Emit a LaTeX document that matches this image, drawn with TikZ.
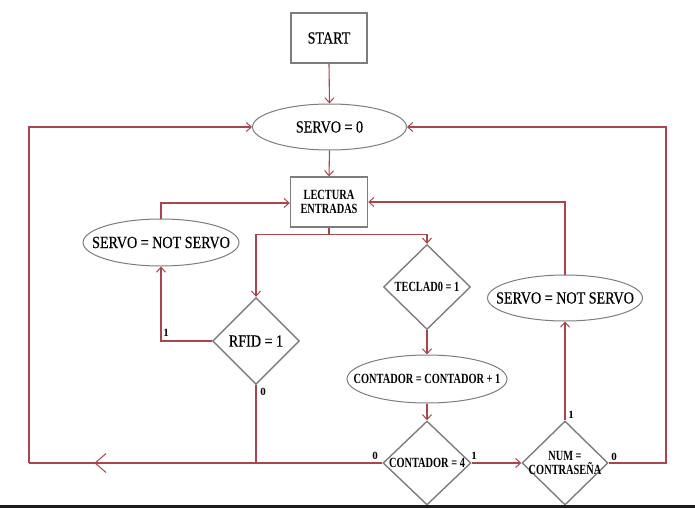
\documentclass[tikz,border=0pt]{standalone}
\usepackage{fontspec}
\setmainfont{Liberation Serif}
\newfontfamily\condfont[FakeStretch=0.74]{Liberation Serif Bold}
\newfontfamily\bigfont[FakeStretch=0.83,FakeBold=0.4]{Liberation Serif}
\usetikzlibrary{shapes.geometric,arrows.meta,decorations.markings}
\definecolor{flow}{RGB}{168,70,80}
\definecolor{outline}{RGB}{125,125,125}
\definecolor{barcol}{RGB}{28,28,28}
\begin{document}
\begin{tikzpicture}[x=1pt,y=-1pt,
  box/.style={rectangle, draw=outline, line width=1.4pt, inner sep=0pt},
  oval/.style={ellipse, draw=outline, line width=1pt, inner sep=0pt},
  dec/.style={diamond, draw=outline, line width=1.4pt, inner sep=0pt},
  bigtxt/.style={font=\bigfont\fontsize{17}{19}\selectfont},
  smalltxt/.style={font=\condfont\fontsize{14}{13.5}\selectfont},
  flowline/.style={draw=flow, line width=1.1pt},
  arr/.style={flowline, -{Straight Barb[length=5pt,width=9pt,line width=1pt]}},
  lbl/.style={font=\fontsize{11}{12}\selectfont\bfseries, inner sep=0pt}
]
\useasboundingbox (0,0) rectangle (695,508);
\fill[white] (0,0) rectangle (695,508);

% process boxes
\node[box, minimum width=76pt, minimum height=50pt, bigtxt] (start) at (329,38) {START};
\node[box, minimum width=77pt, minimum height=50pt, smalltxt, align=center] (lect) at (329,202) {LECTURA\\ENTRADAS};

% assignments (text set as a centred label so the ellipse keeps its size)
\node[oval, minimum width=154pt, minimum height=46pt,
      label={[bigtxt]center:SERVO = 0}] (servo0) at (329.5,127) {};
\node[oval, minimum width=156pt, minimum height=47pt,
      label={[bigtxt]center:SERVO = NOT SERVO}] (nsL) at (161,242.5) {};
\node[oval, minimum width=160pt, minimum height=48pt,
      label={[smalltxt]center:CONTADOR = CONTADOR + 1}] (cont) at (427,379) {};
\node[oval, minimum width=155pt, minimum height=46pt,
      label={[bigtxt]center:SERVO = NOT SERVO}] (nsR) at (565,298) {};

% decisions
\node[dec, minimum width=87pt, minimum height=87pt, bigtxt] (rfid) at (256,341) {RFID = 1};
\node[dec, minimum width=87pt, minimum height=85pt,
      label={[smalltxt]center:TECLAD0 = 1}] (tec) at (427,287) {};
\node[dec, minimum width=88pt, minimum height=84pt,
      label={[smalltxt]center:CONTADOR = 4}] (c4) at (427,463) {};
\node[dec, minimum width=86pt, minimum height=84pt,
      label={[smalltxt, align=center]center:NUM =\\CONTRASEÑA}] (num) at (565,463) {};

% main sequence
\draw[arr] (start.south) -- (servo0.north);
\draw[arr] (servo0.south) -- (lect.north);
\draw[flowline] (lect.south) -- ++(0,7) coordinate (split);
\draw[arr] (split) -| (rfid.north);
\draw[arr] (split) -| (tec.north);
\draw[arr] (tec.south) -- (cont.north);
\draw[arr] (cont.south) -- (c4.north);
\draw[arr] (c4.east) -- (num.west);

% RFID branch
\draw[arr] (rfid.west) -| (nsL.south);
\draw[arr] (nsL.north) |- ([yshift=-1pt]lect.west);
\draw[flowline] (rfid.south) -- (rfid.south |- c4.west);

% return loops to SERVO = 0
\coordinate (bl) at (29,463);
\coordinate (br) at (666,463);
\draw[flowline, postaction={decorate, decoration={markings,
      mark=at position 288pt with {\arrow[flow, line width=1pt]{Straight Barb[length=11pt,width=19pt]}}}}]
  (c4.west) -- (bl);
\draw[arr] (bl) |- (servo0.west);
\draw[arr] (num.east) -- (br) |- (servo0.east);

% password match
\draw[arr] (num.north) -- (nsR.south);
\draw[arr] (nsR.north) |- (lect.east);

% branch labels
\node[lbl] (l1a) at (166,333) {1};
\node[lbl] (l0a) at (263,392) {0};
\node[lbl] (l0b) at (375,456) {0};
\node[lbl] (l1b) at (474,456) {1};
\node[lbl] (l1c) at (571,415) {1};
\node[lbl] (l0c) at (614,457) {0};

% bottom edge strip
\fill[barcol] (0,505) rectangle (695,508);
\end{tikzpicture}
\end{document}
